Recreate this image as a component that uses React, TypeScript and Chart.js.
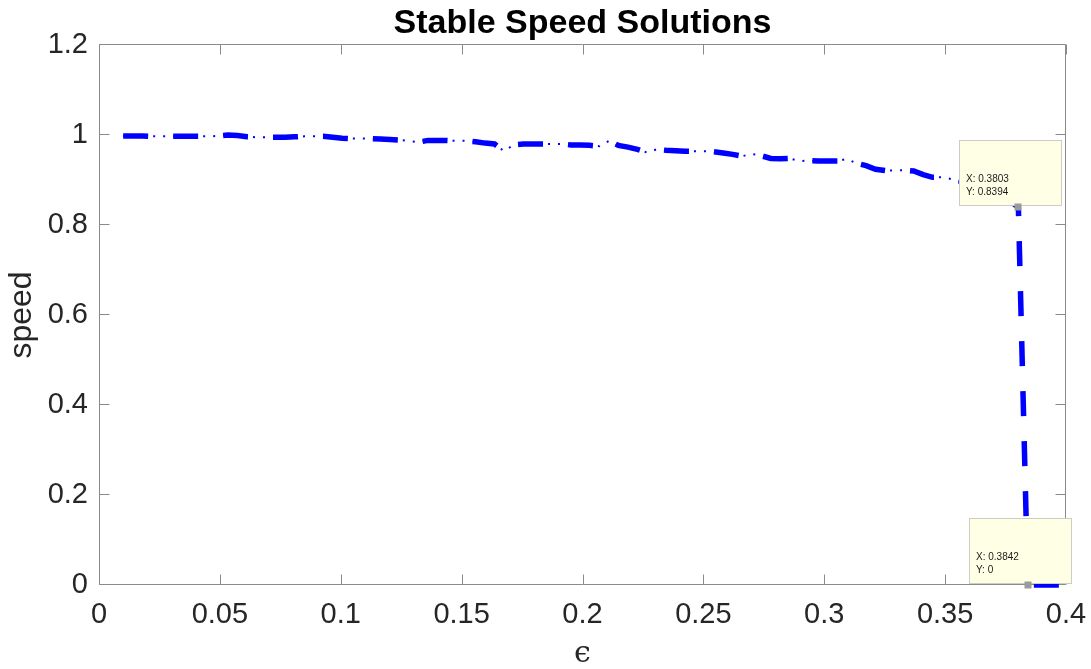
import { useEffect, useRef } from "react";
import { Chart, registerables } from "chart.js";

Chart.register(...registerables);

// Sweep of the coupling parameter and the stable speed found at each value
const epsilonValues = [
  0.01, 0.0139, 0.0179, 0.0218, 0.0258, 0.0297, 0.0336, 0.0376, 0.0415, 0.0455,
  0.0494, 0.0533, 0.0573, 0.0612, 0.0652, 0.0691, 0.073, 0.077, 0.0809, 0.0848,
  0.0888, 0.0927, 0.0967, 0.1006, 0.1045, 0.1085, 0.1124, 0.1164, 0.1203, 0.1242,
  0.1282, 0.1321, 0.1361, 0.14, 0.1439, 0.1479, 0.1518, 0.1558, 0.1597, 0.1636,
  0.1676, 0.1715, 0.1755, 0.1794, 0.1833, 0.1873, 0.1912, 0.1952, 0.1991, 0.203,
  0.207, 0.2109, 0.2148, 0.2188, 0.2227, 0.2267, 0.2306, 0.2345, 0.2385, 0.2424,
  0.2464, 0.2503, 0.2542, 0.2582, 0.2621, 0.2661, 0.27, 0.2739, 0.2779, 0.2818,
  0.2858, 0.2897, 0.2936, 0.2976, 0.3015, 0.3055, 0.3094, 0.3133, 0.3173, 0.3212,
  0.3252, 0.3291, 0.333, 0.337, 0.3409, 0.3448, 0.3488, 0.3527, 0.3567, 0.3606,
  0.3645, 0.3685, 0.3724, 0.3764, 0.3803, 0.3842, 0.3882, 0.3921, 0.3961, 0.4,
];

const speedValues = [
  0.998, 0.998, 0.998, 0.997, 0.997, 0.997, 0.997, 0.997, 0.997, 0.997,
  0.998, 1.0, 0.999, 0.996, 0.995, 0.995, 0.995, 0.995, 0.996, 0.997,
  0.997, 0.997, 0.995, 0.993, 0.992, 0.992, 0.992, 0.991, 0.99, 0.989,
  0.987, 0.984, 0.988, 0.988, 0.988, 0.987, 0.987, 0.985, 0.982, 0.98,
  0.964, 0.978, 0.98, 0.98, 0.98, 0.98, 0.98, 0.978, 0.978, 0.977,
  0.975, 0.987, 0.977, 0.973, 0.968, 0.961, 0.968, 0.966, 0.965, 0.964,
  0.964, 0.964, 0.963, 0.96, 0.957, 0.953, 0.958, 0.954, 0.948, 0.947,
  0.948, 0.942, 0.943, 0.942, 0.942, 0.942, 0.947, 0.937, 0.932, 0.924,
  0.921, 0.921, 0.922, 0.92, 0.912, 0.906, 0.906, 0.902, 0.897, 0.892,
  0.886, 0.878, 0.868, 0.855, 0.8394, 0, 0, 0, 0, 0,
];

const xTickValues = [0, 0.05, 0.1, 0.15, 0.2, 0.25, 0.3, 0.35, 0.4];
const xTickLabels = ["0", "0.05", "0.1", "0.15", "0.2", "0.25", "0.3", "0.35", "0.4"];
const yTickValues = [0, 0.2, 0.4, 0.6, 0.8, 1, 1.2];
const yTickLabels = ["0", "0.2", "0.4", "0.6", "0.8", "1", "1.2"];

// Points carrying a data-tip callout
const tipIndices = [94, 95];

const TITLE = "Stable Speed Solutions";
const X_LABEL = "\u03f5";
const Y_LABEL = "speed";

const SANS = '"Liberation Sans", Arial, Helvetica, sans-serif';
const TEXT_COLOR = "#262626";
const AXIS_COLOR = "#8a8a8a";
const TICK_LEN = 10;

const figureDecor = {
  id: "figureDecor",
  beforeDatasetsDraw(chart: any) {
    const { ctx, chartArea: a, scales } = chart;
    const xs = scales.x;
    const ys = scales.y;
    ctx.save();
    ctx.strokeStyle = AXIS_COLOR;
    ctx.lineWidth = 1;
    const L = a.left + 0.5;
    const R = a.right - 0.5;
    const T = a.top - 0.5;
    const B = a.bottom - 0.5;
    ctx.beginPath();
    ctx.rect(L, T, R - L, B - T);
    ctx.stroke();
    ctx.beginPath();
    for (const v of xTickValues) {
      const px = Math.round(xs.getPixelForValue(v)) + 0.5;
      ctx.moveTo(px, B);
      ctx.lineTo(px, B - TICK_LEN);
      ctx.moveTo(px, T);
      ctx.lineTo(px, T + TICK_LEN);
    }
    for (const v of yTickValues) {
      const py = Math.round(ys.getPixelForValue(v)) - 0.5;
      ctx.moveTo(L, py);
      ctx.lineTo(L + TICK_LEN, py);
      ctx.moveTo(R, py);
      ctx.lineTo(R - TICK_LEN, py);
    }
    ctx.stroke();
    ctx.restore();
  },
  afterDraw(chart: any) {
    const { ctx, chartArea: a, scales } = chart;
    const xs = scales.x;
    const ys = scales.y;
    const cx = (a.left + a.right) / 2;
    const cy = (a.top + a.bottom) / 2;
    ctx.save();

    // title
    ctx.fillStyle = "#000000";
    ctx.font = `bold 34px ${SANS}`;
    ctx.textAlign = "center";
    ctx.textBaseline = "alphabetic";
    ctx.fillText(TITLE, cx, 33);

    // axis titles
    ctx.fillStyle = TEXT_COLOR;
    ctx.font = `30px "DejaVu Serif", "Liberation Serif", serif`;
    ctx.textBaseline = "alphabetic";
    ctx.fillText(X_LABEL, cx, 662);

    ctx.save();
    ctx.translate(22, cy);
    ctx.rotate(-Math.PI / 2);
    ctx.font = `32px ${SANS}`;
    ctx.textBaseline = "middle";
    ctx.fillText(Y_LABEL, 0, 0);
    ctx.restore();

    // data tips
    for (const i of tipIndices) {
      const mx = xs.getPixelForValue(epsilonValues[i]);
      const my = ys.getPixelForValue(speedValues[i]);
      const bx = Math.round(mx - 59) + 0.5;
      const by = Math.round(my - 67) + 0.5;
      const w = 102;
      const h = 65;
      ctx.fillStyle = "#ffffe6";
      ctx.strokeStyle = "#cdcdc4";
      ctx.lineWidth = 1;
      ctx.fillRect(bx, by, w, h);
      ctx.strokeRect(bx, by, w, h);
      ctx.fillStyle = "#1a1a1a";
      ctx.font = `10px ${SANS}`;
      ctx.textAlign = "left";
      ctx.textBaseline = "middle";
      ctx.fillText(`X: ${epsilonValues[i]}`, bx + 6.5, by + 38.5);
      ctx.fillText(`Y: ${speedValues[i]}`, bx + 6.5, by + 52);
      ctx.fillStyle = "#9a9a9a";
      ctx.fillRect(Math.round(mx) - 3.5, Math.round(my) - 3.5, 7, 7);
    }
    ctx.restore();
  },
};

export default function App() {
  const canvasRef = useRef<HTMLCanvasElement | null>(null);

  useEffect(() => {
    const canvas = canvasRef.current;
    if (!canvas) return;
    const points = epsilonValues.map((x, i) => ({ x, y: speedValues[i] }));
    const stablePoints = points.filter((p) => p.y > 0);

    const chart = new Chart(canvas, {
      type: "line",
      data: {
        datasets: [
          {
            data: points,
            borderColor: "#0000ff",
            borderWidth: 5.5,
            borderDash: [25, 25],
            borderCapStyle: "butt",
            pointRadius: 0,
            tension: 0,
            fill: false,
            clip: false,
          },
          {
            data: stablePoints,
            borderColor: "#0000ff",
            borderWidth: 2,
            borderDash: [2, 8],
            borderCapStyle: "butt",
            pointRadius: 0,
            tension: 0,
            fill: false,
            clip: false,
          },
        ],
      },
      options: {
        responsive: false,
        animation: false,
        devicePixelRatio: 1,
        layout: { padding: { top: 45, right: 25, left: 0, bottom: 0 } },
        plugins: {
          legend: { display: false },
          title: { display: false },
          tooltip: { enabled: false },
        },
        events: [],
        scales: {
          x: {
            type: "linear",
            min: 0,
            max: 0.4,
            grid: { display: false, drawTicks: false },
            border: { display: false },
            afterBuildTicks: (s: any) => {
              s.ticks = xTickValues.map((value) => ({ value }));
            },
            afterFit: (s: any) => {
              s.height = 84;
              s.paddingLeft = 0;
              s.paddingRight = 0;
            },
            ticks: {
              autoSkip: false,
              maxRotation: 0,
              padding: 13,
              color: TEXT_COLOR,
              font: { family: SANS, size: 29 },
              callback: (_v: any, idx: number) => xTickLabels[idx],
            },
          },
          y: {
            type: "linear",
            min: 0,
            max: 1.2,
            grid: { display: false, drawTicks: false },
            border: { display: false },
            afterBuildTicks: (s: any) => {
              s.ticks = yTickValues.map((value) => ({ value }));
            },
            afterFit: (s: any) => {
              s.width = 99;
              s.paddingTop = 0;
              s.paddingBottom = 0;
            },
            ticks: {
              autoSkip: false,
              padding: 11,
              color: TEXT_COLOR,
              font: { family: SANS, size: 29 },
              callback: (_v: any, idx: number) => yTickLabels[idx],
            },
          },
        },
      },
      plugins: [figureDecor],
    });
    return () => chart.destroy();
  }, []);

  return (
    <div style={{ position: "absolute", left: 0, top: 0, width: 1091, height: 669, background: "#ffffff" }}>
      <canvas ref={canvasRef} width={1091} height={669} style={{ display: "block" }} />
    </div>
  );
}
